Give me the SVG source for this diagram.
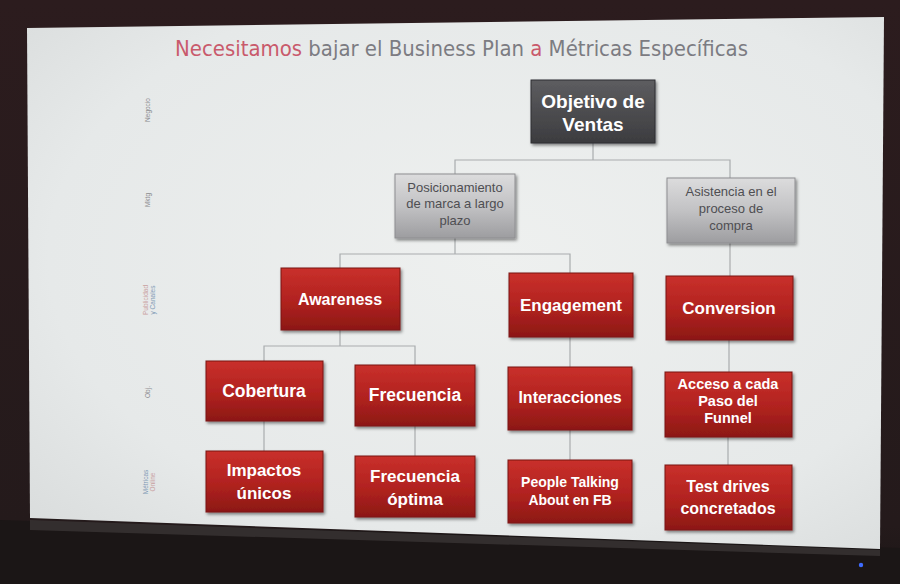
<svg xmlns="http://www.w3.org/2000/svg" width="900" height="584" viewBox="0 0 900 584">
  <defs>
    <linearGradient id="room" x1="0" y1="0" x2="0" y2="1">
      <stop offset="0" stop-color="#2c1c1e"/>
      <stop offset="0.9" stop-color="#241a1b"/>
      <stop offset="1" stop-color="#1c1616"/>
    </linearGradient>
    <radialGradient id="screen" cx="0.55" cy="0.45" r="0.75">
      <stop offset="0" stop-color="#eef0ef"/>
      <stop offset="0.7" stop-color="#e6e9e9"/>
      <stop offset="1" stop-color="#d9dcdc"/>
    </radialGradient>
    <linearGradient id="redFill" x1="0" y1="0" x2="0" y2="1">
      <stop offset="0" stop-color="#c9302b"/>
      <stop offset="0.55" stop-color="#b0221f"/>
      <stop offset="1" stop-color="#8c1815"/>
    </linearGradient>
    <linearGradient id="greyFill" x1="0" y1="0" x2="0" y2="1">
      <stop offset="0" stop-color="#dcdcdd"/>
      <stop offset="0.5" stop-color="#c2c2c4"/>
      <stop offset="1" stop-color="#9d9da0"/>
    </linearGradient>
    <linearGradient id="darkFill" x1="0" y1="0" x2="0" y2="1">
      <stop offset="0" stop-color="#5d5d60"/>
      <stop offset="1" stop-color="#3c3c3f"/>
    </linearGradient>
    <filter id="shadow" x="-10%" y="-10%" width="125%" height="130%">
      <feDropShadow dx="1.5" dy="2" stdDeviation="1.5" flood-color="#000" flood-opacity="0.45"/>
    </filter>
    <style>
      .red { fill: url(#redFill); stroke: #7a1512; stroke-width: 1; filter: url(#shadow); }
      .grey { fill: url(#greyFill); stroke: #8e8e91; stroke-width: 1; filter: url(#shadow); }
      .dark { fill: url(#darkFill); stroke: #2e2e30; stroke-width: 1; filter: url(#shadow); }
      .wt { font-family: "Liberation Sans", Arial, sans-serif; font-weight: bold; fill: #ffffff; text-anchor: middle; }
      .gt { font-family: "Liberation Sans", Arial, sans-serif; fill: #4e4e52; text-anchor: middle; font-size: 13px; }
      .side { font-family: "Liberation Sans", Arial, sans-serif; font-size: 6.5px; fill: #8a8a8e; text-anchor: middle; }
      .link { fill: none; stroke: #a9acae; stroke-width: 1.2; }
      .title { font-family: "Liberation Sans Narrow", "DejaVu Sans Condensed", "Liberation Sans", sans-serif; font-size: 21px; fill: #7c7c82; }
      .accent { fill: #c95a6c; }
    </style>
  </defs>

  <!-- room and monitor frame -->
  <rect x="0" y="0" width="900" height="584" fill="url(#room)"/>
  <path d="M0 520 L900 548 L900 584 L0 584 Z" fill="#1b1616"/>
  <path d="M30 520 L880 550 L880 556 L30 530 Z" fill="#3a3434" opacity="0.8"/>
  <circle cx="861" cy="565" r="2.2" fill="#3f6cff"/>

  <!-- projected screen -->
  <path d="M27 28 L884 17 L880 549 L30 518 Z" fill="url(#screen)"/>

  <!-- title -->
  <text class="title" x="175" y="56" textLength="573" lengthAdjust="spacingAndGlyphs"><tspan class="accent">Necesitamos</tspan> bajar el Business Plan <tspan class="accent">a</tspan> Métricas Específicas</text>

  <!-- level labels on the left -->
  <g id="level-labels">
    <text class="side" transform="translate(150 110) rotate(-90)">Negocio</text>
    <text class="side" transform="translate(150 200) rotate(-90)">Mktg</text>
    <text class="side" transform="translate(148 300) rotate(-90)"><tspan fill="#c9a0a0">Publicidad</tspan></text>
    <text class="side" transform="translate(155 300) rotate(-90)"><tspan fill="#7f9ab5">y Canales</tspan></text>
    <text class="side" transform="translate(150 392) rotate(-90)">Obj.</text>
    <text class="side" transform="translate(148 482) rotate(-90)"><tspan fill="#7f9ab5">Métricas</tspan></text>
    <text class="side" transform="translate(155 482) rotate(-90)"><tspan fill="#c9a0a0">Online</tspan></text>
  </g>

  <!-- connectors -->
  <g id="connectors">
    <path class="link" d="M593 143 V160 M455 174 V160 H730 V178"/>
    <path class="link" d="M455 238 V254 M340 268 V254 H570 V273"/>
    <path class="link" d="M730 243 V276"/>
    <path class="link" d="M340 330 V346 M264 361 V346 H415 V365"/>
    <path class="link" d="M570 337 V367"/>
    <path class="link" d="M729 340 V372"/>
    <path class="link" d="M264 421 V451"/>
    <path class="link" d="M415 426 V456"/>
    <path class="link" d="M570 430 V460"/>
    <path class="link" d="M728 437 V465"/>
  </g>

  <!-- nodes -->
  <g id="objetivo-ventas">
    <rect class="dark" x="531" y="80" width="124" height="63"/>
    <text class="wt" x="593" y="108" font-size="19">Objetivo de</text>
    <text class="wt" x="593" y="131" font-size="19">Ventas</text>
  </g>

  <g id="posicionamiento">
    <rect class="grey" x="395" y="174" width="120" height="64"/>
    <text class="gt" x="455" y="192">Posicionamiento</text>
    <text class="gt" x="455" y="208">de marca a largo</text>
    <text class="gt" x="455" y="225">plazo</text>
  </g>

  <g id="asistencia">
    <rect class="grey" x="667" y="178" width="128" height="65"/>
    <text class="gt" x="731" y="196">Asistencia en el</text>
    <text class="gt" x="731" y="213">proceso de</text>
    <text class="gt" x="731" y="230">compra</text>
  </g>

  <g id="awareness">
    <rect class="red" x="281" y="268" width="119" height="62"/>
    <text class="wt" x="340" y="305" font-size="16">Awareness</text>
  </g>

  <g id="engagement">
    <rect class="red" x="509" y="273" width="124" height="64"/>
    <text class="wt" x="571" y="311" font-size="17">Engagement</text>
  </g>

  <g id="conversion">
    <rect class="red" x="666" y="276" width="127" height="64"/>
    <text class="wt" x="729" y="314" font-size="17">Conversion</text>
  </g>

  <g id="cobertura">
    <rect class="red" x="206" y="361" width="117" height="60"/>
    <text class="wt" x="264" y="397" font-size="17.5">Cobertura</text>
  </g>

  <g id="frecuencia">
    <rect class="red" x="355" y="365" width="120" height="61"/>
    <text class="wt" x="415" y="401" font-size="17.5">Frecuencia</text>
  </g>

  <g id="interacciones">
    <rect class="red" x="508" y="367" width="124" height="63"/>
    <text class="wt" x="570" y="403" font-size="16">Interacciones</text>
  </g>

  <g id="acceso-funnel">
    <rect class="red" x="665" y="372" width="127" height="65"/>
    <text class="wt" x="728" y="389" font-size="14.5">Acceso a cada</text>
    <text class="wt" x="728" y="406" font-size="14.5">Paso del</text>
    <text class="wt" x="728" y="423" font-size="14.5">Funnel</text>
  </g>

  <g id="impactos-unicos">
    <rect class="red" x="206" y="451" width="117" height="61"/>
    <text class="wt" x="264" y="476" font-size="17">Impactos</text>
    <text class="wt" x="264" y="499" font-size="17">únicos</text>
  </g>

  <g id="frecuencia-optima">
    <rect class="red" x="355" y="456" width="120" height="61"/>
    <text class="wt" x="415" y="482" font-size="17">Frecuencia</text>
    <text class="wt" x="415" y="505" font-size="17">óptima</text>
  </g>

  <g id="people-talking">
    <rect class="red" x="508" y="460" width="124" height="63"/>
    <text class="wt" x="570" y="487" font-size="14">People Talking</text>
    <text class="wt" x="570" y="505" font-size="14">About en FB</text>
  </g>

  <g id="test-drives">
    <rect class="red" x="665" y="465" width="127" height="65"/>
    <text class="wt" x="728" y="492" font-size="16">Test  drives</text>
    <text class="wt" x="728" y="514" font-size="16">concretados</text>
  </g>
</svg>
